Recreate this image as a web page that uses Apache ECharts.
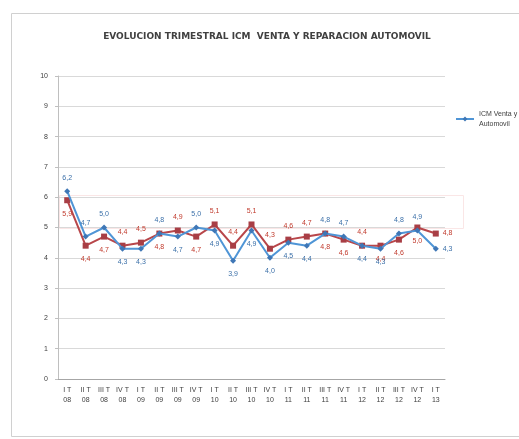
<!DOCTYPE html>
<html>
<head>
<meta charset="utf-8">
<script src="https://cdn.jsdelivr.net/npm/echarts@6/dist/echarts.min.js"></script>
<style>
  html, body { margin: 0; padding: 0; background: #fff; }
  #chart { width: 519px; height: 439px; }
</style>
</head>
<body>
<div id="chart"></div>
<script>
// trimestres I T 08 .. I T 13
const quarters = ["I T", "II T", "III T", "IV T", "I T", "II T", "III T", "IV T", "I T", "II T", "III T",
  "IV T", "I T", "II T", "III T", "IV T", "I T", "II T", "III T", "IV T", "I T"];
const years = ["08", "08", "08", "08", "09", "09", "09", "09", "10", "10", "10",
  "10", "11", "11", "11", "11", "12", "12", "12", "12", "13"];

const icmValues = [6.2, 4.7, 5.0, 4.3, 4.3, 4.8, 4.7, 5.0, 4.9, 3.9, 4.9,
  4.0, 4.5, 4.4, 4.8, 4.7, 4.4, 4.3, 4.8, 4.9, 4.3];
const otherValues = [5.9, 4.4, 4.7, 4.4, 4.5, 4.8, 4.9, 4.7, 5.1, 4.4, 5.1,
  4.3, 4.6, 4.7, 4.8, 4.6, 4.4, 4.4, 4.6, 5.0, 4.8];

const yTicks = [0, 1, 2, 3, 4, 5, 6, 7, 8, 9, 10];

// where each data label sits (Excel placed them by hand)
const icmLabelPos = ["top", "top", "top", "bottom", "bottom", "top", "bottom", "top", "bottom", "bottom", "bottom",
  "bottom", "bottom", "bottom", "top", "top", "bottom", "bottom", "top", "top", "right"];
const otherLabelPos = ["bottom", "bottom", "bottom", "top", "top", "bottom", "top", "bottom", "top", "top", "top",
  "top", "top", "top", "bottom", "bottom", "top", "bottom", "bottom", "bottom", "right"];

const BLUE = "#4f95d6";
const RED = "#b8464a";
const fmt = (v) => v.toFixed(1).replace(".", ",");

function makeData(values, positions) {
  return values.map((v, i) => ({
    value: v,
    label: { position: positions[i], distance: positions[i] === "top" || positions[i] === "bottom" ? 7 : 4 }
  }));
}

const chart = echarts.init(document.getElementById("chart"));
chart.setOption({
  backgroundColor: "#fff",
  animation: false,
  textStyle: { fontFamily: "Liberation Sans" },
  title: {
    text: "EVOLUCION TRIMESTRAL ICM  VENTA Y REPARACION AUTOMOVIL",
    left: 262,
    top: 27,
    textAlign: "center",
    textStyle: { fontSize: 9, fontWeight: "bold", color: "#404040", fontFamily: "DejaVu Sans" }
  },
  legend: {
    data: ["ICM Venta y Rep.\nAutomovil"],
    left: 450,
    top: 104,
    itemWidth: 18,
    itemHeight: 6,
    itemGap: 4,
    textStyle: { fontSize: 7, color: "#404040", lineHeight: 10 }
  },
  grid: { left: 58, right: 74, top: 76, bottom: 60 },
  xAxis: {
    type: "category",
    data: quarters.map((q, i) => q + "\n" + years[i]),
    axisLine: { lineStyle: { color: "#a6a6a6" } },
    axisTick: { show: false },
    axisLabel: { interval: 0, fontSize: 7, color: "#404040", lineHeight: 10, margin: 6 }
  },
  yAxis: {
    type: "value",
    min: yTicks[0],
    max: yTicks[yTicks.length - 1],
    interval: 1,
    axisLine: { show: true, lineStyle: { color: "#bfbfbf" } },
    axisTick: { show: true, length: 3, lineStyle: { color: "#bfbfbf" } },
    axisLabel: { fontSize: 7, color: "#404040", margin: 10 },
    splitLine: { lineStyle: { color: "#d9d9d9" } }
  },
  graphic: [
    {
      type: "rect",
      shape: { x: 11.5, y: 13.5, width: 520, height: 423 },
      style: { fill: "none", stroke: "#d0d0d0", lineWidth: 1 },
      silent: true
    },
    {
      type: "rect",
      shape: { x: 59.5, y: 195.5, width: 404, height: 33 },
      style: { fill: "none", stroke: "#fae6e6", lineWidth: 1 },
      silent: true
    }
  ],
  series: [
    {
      name: "ICM Venta y Rep.\nAutomovil",
      type: "line",
      data: makeData(icmValues, icmLabelPos),
      symbol: "diamond",
      symbolSize: 6,
      lineStyle: { color: BLUE, width: 2 },
      itemStyle: { color: "#3f77b6" },
      label: { show: true, formatter: (p) => fmt(p.value), fontSize: 7, color: "#3a6fa8" },
      z: 3
    },
    {
      name: "Serie2",
      type: "line",
      data: makeData(otherValues, otherLabelPos),
      symbol: "rect",
      symbolSize: 6,
      lineStyle: { color: RED, width: 2 },
      itemStyle: { color: "#a83e45" },
      label: { show: true, formatter: (p) => fmt(p.value), fontSize: 7, color: "#c0392b" },
      z: 2
    }
  ]
});
</script>
</body>
</html>
